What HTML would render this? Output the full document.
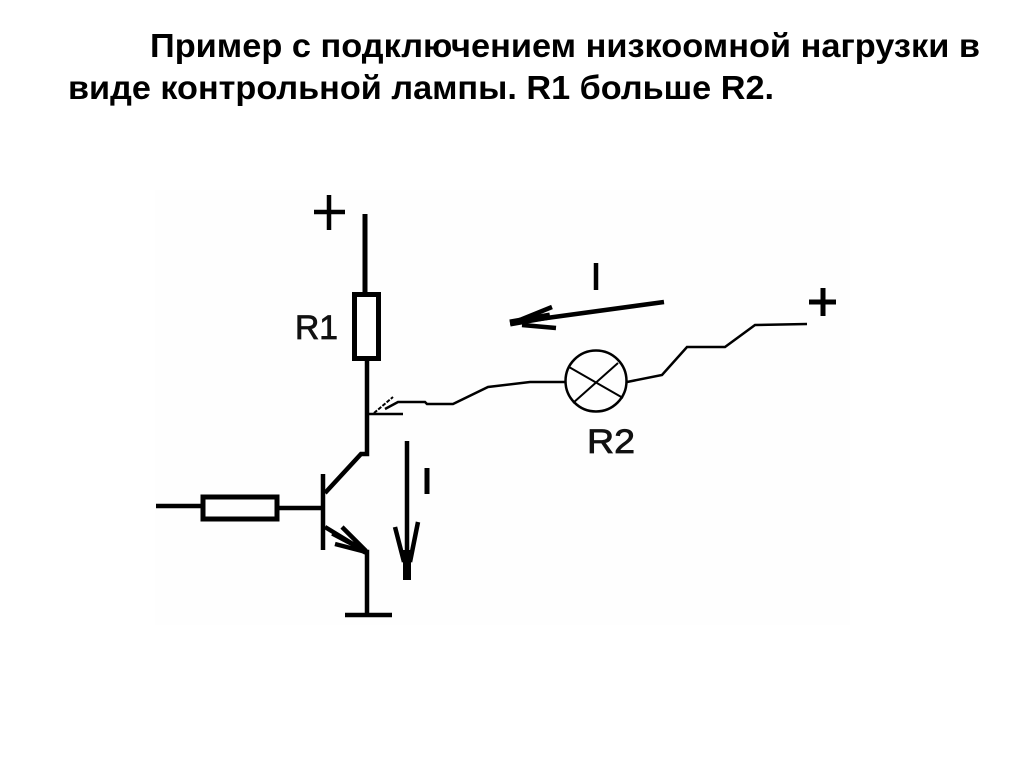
<!DOCTYPE html>
<html lang="ru"><head><meta charset="utf-8"><title>Схема</title>
<style>html,body{margin:0;padding:0;background:#fff}svg{display:block}</style></head>
<body>
<svg xmlns="http://www.w3.org/2000/svg" width="1024" height="767" viewBox="0 0 1024 767">
<rect width="1024" height="767" fill="#fff"/>
<rect x="155" y="190" width="695" height="435" fill="#fefefe"/>
<g font-family="'Liberation Sans',sans-serif" font-weight="bold" font-size="33" fill="#000">
<text x="150" y="57" textLength="830" lengthAdjust="spacingAndGlyphs">Пример с подключением низкоомной нагрузки в</text>
<text x="68" y="99" textLength="706" lengthAdjust="spacingAndGlyphs">виде контрольной лампы. R1 больше R2.</text>
</g>
<g fill="none" stroke="#000" stroke-linejoin="miter" stroke-linecap="butt">
<!-- plus signs -->
<path d="M314 212H345M329 195V230" stroke-width="4.500"/>
<path d="M809 302H836M823 288V316" stroke-width="5"/>
<!-- R1 branch -->
<path d="M365 214V292" stroke-width="5"/>
<rect x="354.500" y="294.500" width="24" height="64" stroke-width="5"/>
<path d="M367 361V454H361L325 493" stroke-width="4.500"/>
<!-- input -->
<path d="M156 506H201" stroke-width="4.500"/>
<rect x="203" y="497" width="74" height="22" stroke-width="5"/>
<path d="M278 508H323" stroke-width="4.500"/>
<!-- transistor -->
<path d="M323 474V550" stroke-width="4.500"/>
<path d="M325 527L366 552H367V614" stroke-width="4.500"/>
<path d="M345 615H392" stroke-width="4.500"/>
<path d="M342 527L366 551M335 544L366 552" stroke-width="4.500"/>
<path d="M332 534L366 552" stroke-width="3.500"/>
<path d="M352 544L366 552" stroke-width="6"/>
<!-- current arrow down -->
<path d="M407 441V580" stroke-width="4.500"/>
<path d="M395 527L404 562M418 522L410 562" stroke-width="4.500"/>
<path d="M407 550V580" stroke-width="8"/>
<path d="M427 468V494" stroke-width="5"/>
<!-- current arrow left -->
<path d="M664 302L510 323" stroke-width="4.500"/>
<path d="M552 307L515 322M556 328L522 325" stroke-width="4.500"/>
<path d="M550 316L510 323" stroke-width="7"/>
<path d="M596 263V290" stroke-width="4.500"/>
<!-- lamp -->
<circle cx="596" cy="381" r="30.500" stroke-width="2.500"/>
<path d="M569 367L623 398M618 363L573 403" stroke-width="2"/>
<!-- wires -->
<path d="M627 382L662 375L687 347H725L755 325L807 324" stroke-width="2.500"/>
<path d="M565 382H530L488 387L453 404H427L425 402H398L385 409" stroke-width="2.500"/>
<!-- arrow on junction -->
<path d="M367 414H403" stroke-width="2.500"/>
<path d="M374 413L393 397" stroke-width="2" stroke-dasharray="4 1.500"/>
</g>
<g font-family="'Liberation Sans',sans-serif" font-size="34" fill="#111" stroke="#111" stroke-width="0.800">
<text x="295" y="339" textLength="43" lengthAdjust="spacingAndGlyphs">R1</text>
<text x="587" y="453" textLength="48" lengthAdjust="spacingAndGlyphs">R2</text>
</g>
</svg>
</body></html>
